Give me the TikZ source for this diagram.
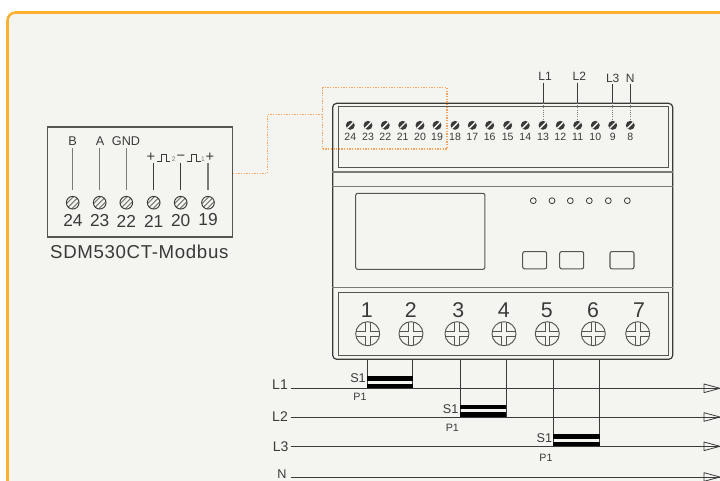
\documentclass[tikz,border=0pt]{standalone}
\usepackage{fontspec}
\setmainfont{Liberation Sans}
\usetikzlibrary{positioning,calc}
\definecolor{panelfill}{HTML}{F4F4F0}
\definecolor{panelline}{HTML}{FBB030}
\definecolor{linkline}{HTML}{F6A55C}
\definecolor{inkdark}{HTML}{3A3A3A}
\definecolor{inkmid}{HTML}{555552}
\definecolor{inkgrey}{HTML}{7A7A76}
\tikzset{
  wire/.style = {inkdark, line width=0.7pt},
  body/.style = {inkdark, line width=0.9pt},
  seam/.style = {inkgrey, line width=1.1pt},
  link/.style = {linkline, line width=0.85pt, dash pattern=on 0.9pt off 1.1pt},
  lbl/.style = {inner sep=0pt, text=inkdark, font=\fontsize{9.5}{10}\selectfont},
  tinylbl/.style = {inner sep=0pt, text=inkdark, font=\fontsize{8}{9}\selectfont},
  numlbl/.style = {inner sep=0pt, text=inkdark, font=\fontsize{13}{14}\selectfont},
  biglbl/.style = {inner sep=0pt, text=inkdark, font=\fontsize{16}{17}\selectfont},
  linelbl/.style = {inner sep=0pt, text=inkdark, font=\fontsize{10.5}{12}\selectfont},
  pinscrew/.style = {circle, inner sep=0pt, minimum size=6.7pt, fill=inkdark, path picture={
      \draw [panelfill, line width=1pt] (path picture bounding box.south west) -- (path picture bounding box.north east);}},
  hatchscrew/.style = {circle, inner sep=0pt, minimum size=9.5pt, draw=inkdark, line width=0.7pt, path picture={
      \foreach \d in {-2.6,0,2.6}
        \draw [inkgrey, line width=0.8pt] ($(path picture bounding box.center)+(-8+\d,8+\d)$) -- ++(16,-16);}},
  crossscrew/.style = {circle, inner sep=0pt, minimum size=18pt, draw=inkmid, line width=0.7pt, path picture={
      \foreach \sx/\sy in {1/1,1/-1,-1/1,-1/-1}
        \draw [inkmid, line width=0.6pt, shift={(path picture bounding box.center)}] (13*\sx,2.2*\sy) -- (2.2*\sx,2.2*\sy) -- (2.2*\sx,13*\sy);}},
}
\begin{document}
\begin{tikzpicture}[x=0.75pt, y=-0.75pt]
        \useasboundingbox (0,0) rectangle (720,480);
        \draw [panelline, fill=panelfill, line width=1.9pt, rounded corners=6pt] (740,495) -- (7.5,495) -- (7.5,12.5) -- (740,12.5) -- cycle;

        % terminal card
        \node (card) [draw=inkmid, line width=0.85pt, inner sep=0pt, minimum width=138.75pt, minimum height=82.5pt] at (140,182) {};
        \node (cardname) [inner sep=0pt, text=inkdark, font=\fontsize{14}{15}\selectfont\addfontfeature{LetterSpace=3.5}] at (139.3,251.5) {SDM530CT-Modbus};
        \foreach \n/\x in {24/72.7,23/99.7,22/126.3,21/153.7,20/180.7,19/208}
          \node (s\n) [hatchscrew] at (\x,202.7) {};
        \node [numlbl] at (73,220.7) {24};
        \node [numlbl] at (s23 |- 0,221) {23};
        \node [numlbl] at (s22 |- 0,221) {22};
        \node [numlbl] at (s21 |- 0,221) {21};
        \node [numlbl] at (s20 |- 0,221) {20};
        \node [numlbl] at (s19 |- 0,219.5) {19};
        \node (tb) [lbl] at (72.7,141.5) {B};
        \node (ta) [lbl] at (100,141.5) {A};
        \node (tgnd) [lbl] at (126,141.5) {GND};
        \draw [seam, shorten <=1.5pt, shorten >=4.7pt] (s24 |- tb.south) -- (s24.north);
        \draw [seam, shorten <=1.5pt, shorten >=4.7pt] (s23 |- ta.south) -- (s23.north);
        \draw [seam, shorten <=1.5pt, shorten >=4.7pt] (s22 |- tgnd.south) -- (s22.north);
        \coordinate (p21) at (153.7,162.7);
        \coordinate (p20) at (180.7,162.7);
        \coordinate (p19) at (208,162.7);
        \draw [wire, shorten >=4.7pt] (p21) -- (s21.north);
        \draw [wire, shorten >=4.7pt] (p20) -- (s20.north);
        \draw [seam, shorten >=4.7pt] (p19) -- (s19.north);
        \node [inner sep=0pt, text=inkdark, font=\fontsize{11}{12}\selectfont] at (151,157.5) {+};
        \node [inner sep=0pt, text=inkdark, font=\fontsize{11}{12}\selectfont] at (210,157.5) {+};
        \node [inner sep=0pt, text=inkdark, font=\fontsize{11}{12}\selectfont] at (181,157.5) {−};
        \node [inner sep=0pt, text=inkgrey, font=\fontsize{5}{6}\selectfont] at (173.7,159.5) {2};
        \node [inner sep=0pt, text=inkgrey, font=\fontsize{5}{6}\selectfont] at (203,159.5) {1};
        \draw [wire] (157,161.7) -- (161,161.7) -- (161,154.3) -- (166.7,154.3) -- (166.7,161.7) -- (170,161.7);
        \draw [wire] (186.7,161.7) -- (191,161.7) -- (191,154.3) -- (196.7,154.3) -- (196.7,161.7) -- (200.7,161.7);

        % meter body
        \node (device) [draw=inkdark, line width=0.9pt, rounded corners=3pt, inner sep=0pt, minimum width=255pt, minimum height=192pt] at (502.7,231.3) {};
        \node (topbox) [draw=inkmid, line width=0.8pt, inner sep=0pt, minimum width=247.5pt, minimum height=46pt] at (503.3,137) {};
        \node (lowbox) [draw=inkmid, line width=0.8pt, inner sep=0pt, minimum width=247.5pt, minimum height=47.2pt] at (503.3,324.2) {};
        \node (screen) [draw=inkmid, line width=0.8pt, rounded corners=1.5pt, inner sep=0pt, minimum width=96.9pt, minimum height=57pt] at (420.3,231.3) {};
        \draw [seam] (device.west |- 0,172) -- (device.east |- 0,172);
        \draw [seam] (device.west |- 0,186.7) -- (device.east |- 0,186.7);
        \draw [seam] (device.west |- 0,287.7) -- (device.east |- 0,287.7);
        \foreach \n/\x in {a/533.3,b/552,c/570.3,d/589.3,e/608.3,f/627.3}
          \node (led\n) [circle, draw=inkdark, line width=0.6pt, inner sep=0pt, minimum size=4.4pt] at (\x,200.7) {};
        \node (keya) [draw=inkmid, line width=0.8pt, rounded corners=1.5pt, inner sep=0pt, minimum width=18pt, minimum height=13pt] at (534.7,260.2) {};
        \node (keyb) [draw=inkmid, line width=0.8pt, rounded corners=1.5pt, inner sep=0pt, minimum width=18pt, minimum height=13pt] at (571.7,260.2) {};
        \node (keyc) [draw=inkmid, line width=0.8pt, rounded corners=1.5pt, inner sep=0pt, minimum width=18pt, minimum height=13pt] at (622,260.2) {};

        % upper terminals
        \foreach \n/\x in {24/350.3,23/368,22/385.3,21/402.7,20/420,19/437,18/455,17/472.3,16/489.7,15/507.7,14/525.3,13/543,12/560.3,11/577.7,10/595.3,9/612.7,8/630.3} {
          \node (u\n) [pinscrew] at (\x,125.3) {};
          \node [inner sep=0pt, text=inkdark, font=\fontsize{7.9}{9}\selectfont] at (\x,137.3) {\n};
        }
        \node (upl1) [lbl, font=\fontsize{9}{10}\selectfont] at (545,76.7) {L1};
        \node (upl2) [lbl, font=\fontsize{9}{10}\selectfont] at (579.3,76.7) {L2};
        \node (upl3) [lbl, font=\fontsize{9}{10}\selectfont] at (612.7,78) {L3};
        \node (upn) [lbl, font=\fontsize{9}{10}\selectfont] at (630.3,78) {N};
        \draw [wire] (u13 |- upl1.south) ++(0,1.5) -- (u13 |- device.north);
        \draw [wire] (u11 |- upl2.south) ++(0,1.5) -- (u11 |- device.north);
        \draw [wire] (u9 |- upl3.south) ++(0,1.5) -- (u9 |- device.north);
        \draw [wire] (u8 |- upn.south) ++(0,1.5) -- (u8 |- device.north);
        \draw [inkgrey, line width=0.7pt, densely dotted] (u13 |- device.north) -- (u13.north);
        \draw [inkgrey, line width=0.7pt, densely dotted] (u11 |- device.north) -- (u11.north);
        \draw [inkgrey, line width=0.7pt, densely dotted] (u9 |- device.north) -- (u9.north);
        \draw [inkgrey, line width=0.7pt, densely dotted] (u8 |- device.north) -- (u8.north);

        % link between card and strip
        \node (zoombox) [link, draw, inner sep=0pt, minimum width=93.2pt, minimum height=46pt] at (384.8,118.3) {};
        \draw [link] (card.east |- 0,173.4) -| (267.3,114.7) -- (zoombox.west |- 0,114.7);

        % main terminals
        \foreach \n/\x/\tx in {1/367.7/366.7,2/411/410.7,3/457/458.3,4/504/503.7,5/547.3/546.7,6/593.3/593,7/637.7/639} {
          \node (m\n) [crossscrew] at (\x,333.7) {};
          \node [biglbl] at (\tx,310) {\n};
        }

        % supply lines
        \coordinate (lone) at (290.7,388.3);
        \coordinate (ltwo) at (290.7,417);
        \coordinate (lthree) at (290.7,446.3);
        \coordinate (lfour) at (290.7,477);
        \coordinate (tipone) at (720,388.3);
        \coordinate (tiptwo) at (720,417);
        \coordinate (tipthree) at (720,446.3);
        \coordinate (tipfour) at (720,477);
        \draw [wire] (lone) -- (tipone);
        \draw [wire] (ltwo) -- (tiptwo);
        \draw [wire] (lthree) -- (tipthree);
        \draw [wire] (lfour) -- (tipfour);
        \foreach \t in {tipone,tiptwo,tipthree,tipfour}
          \draw [inkdark, line width=0.6pt, line join=round] (\t) -- ++(-16,-4.3) -- ++(0,8.6) -- cycle;
        \node [linelbl] at (280,385) {L1};
        \node [linelbl] at (280,416.7) {L2};
        \node [linelbl] at (280.7,446.7) {L3};
        \node [inner sep=0pt, text=inkdark, font=\fontsize{9.5}{11}\selectfont] at (282,474.5) {N};

        % current transformers
        \coordinate (ca) at (367,359.3);
        \coordinate (cb) at (412.7,359.3);
        \coordinate (cc) at (460.3,359.3);
        \coordinate (cd) at (506.3,359.3);
        \coordinate (ce) at (553.3,359.3);
        \coordinate (cf) at (599.7,359.3);
        \draw [wire] (ca) -- (ca |- lone);
        \draw [wire] (cb) -- (cb |- lone);
        \draw [wire] (cc) -- (cc |- ltwo);
        \draw [wire] (cd) -- (cd |- ltwo);
        \draw [wire] (ce) -- (ce |- lthree);
        \draw [wire] (cf) -- (cf |- lthree);
        \fill [black] ($(ca |- lone)+(0,-12.3)$) rectangle ($(cb |- lone)+(0,-7.7)$);
        \fill [black] ($(ca |- lone)+(0,-4.6)$) rectangle (cb |- lone);
        \fill [black] ($(cc |- ltwo)+(0,-12.3)$) rectangle ($(cd |- ltwo)+(0,-7.7)$);
        \fill [black] ($(cc |- ltwo)+(0,-4.6)$) rectangle (cd |- ltwo);
        \fill [black] ($(ce |- lthree)+(0,-12.3)$) rectangle ($(cf |- lthree)+(0,-7.7)$);
        \fill [black] ($(ce |- lthree)+(0,-4.6)$) rectangle (cf |- lthree);
        \node [lbl] at (358,378.3) {S1};
        \node [tinylbl] at (360,396.7) {P1};
        \node [lbl] at (450.7,409.3) {S1};
        \node [tinylbl] at (452.3,428.3) {P1};
        \node [lbl] at (544.3,438.3) {S1};
        \node [tinylbl] at (546,457.7) {P1};
      \end{tikzpicture}
\end{document}
